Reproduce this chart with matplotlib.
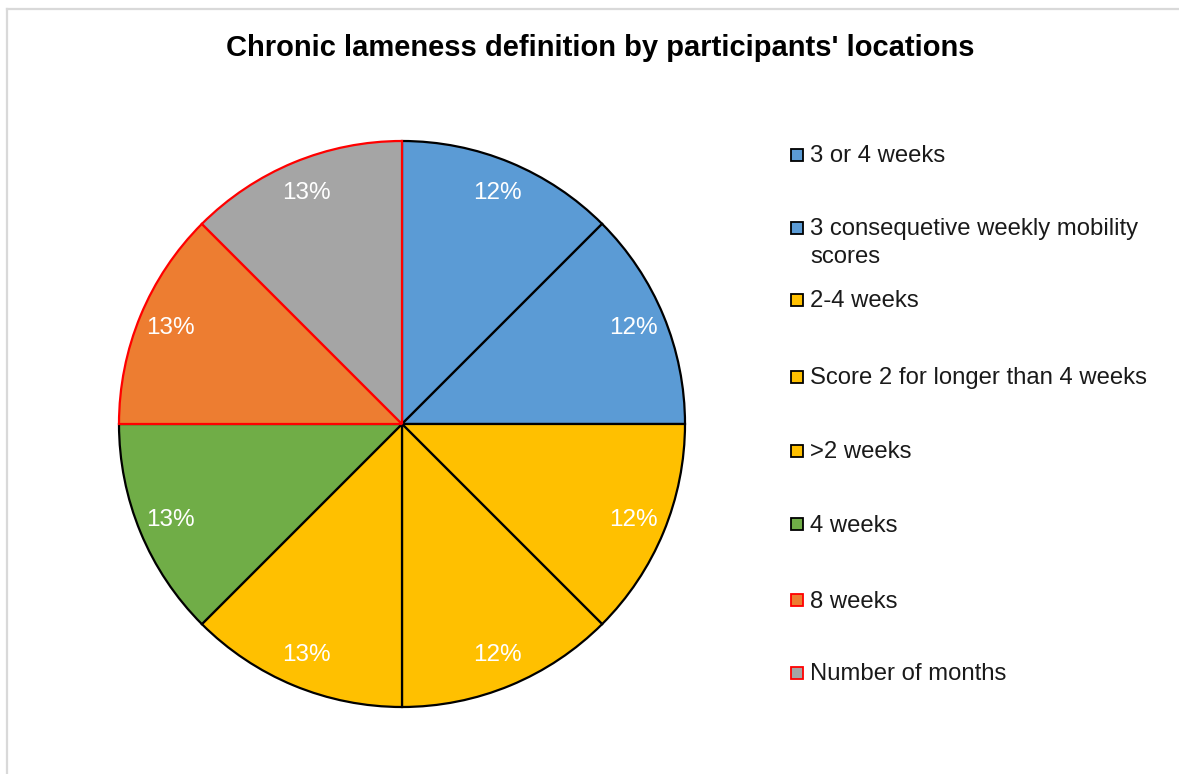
import matplotlib
matplotlib.use("Agg")
import matplotlib.pyplot as plt
from matplotlib.patches import Rectangle
from matplotlib.lines import Line2D

plt.rcParams['font.family'] = ['Liberation Sans', 'DejaVu Sans']

title = "Chronic lameness definition by participants' locations"
categories = ["3 or 4 weeks", "3 consequetive weekly mobility\nscores", "2-4 weeks",
              "Score 2 for longer than 4 weeks", ">2 weeks", "4 weeks", "8 weeks",
              "Number of months"]
values = [1, 1, 1, 1, 1, 1, 1, 1]
pct_labels = ["12%", "12%", "12%", "12%", "13%", "13%", "13%", "13%"]
colors = ["#5B9BD5", "#5B9BD5", "#FFC000", "#FFC000", "#FFC000", "#70AD47", "#ED7D31", "#A5A5A5"]
edges = ["black", "black", "black", "black", "black", "black", "red", "red"]

W, H = 1179, 774
fig = plt.figure(figsize=(W / 100, H / 100), dpi=100)

# outer chart frame
fig.add_artist(Line2D([7 / W, 7 / W], [0, 1 - 9 / H], color="#d9d9d9", lw=1.6, transform=fig.transFigure))
fig.add_artist(Line2D([7 / W, 1], [1 - 9 / H, 1 - 9 / H], color="#d9d9d9", lw=1.6, transform=fig.transFigure))

# pie axes: center (402,424), radius 283
cx, cy, r = 402, 424, 283
ax = fig.add_axes([(cx - r) / W, 1 - (cy + r) / H, 2 * r / W, 2 * r / H])
wedges, texts = ax.pie(values, colors=colors, startangle=90, counterclock=False,
                       labels=pct_labels, labeldistance=0.885,
                       wedgeprops=dict(linewidth=1.6),
                       textprops=dict(color="white", fontsize=17.5, ha="center", va="center"))
for w, ec in zip(wedges, edges):
    w.set_edgecolor(ec)
ax.set_xlim(-1, 1)
ax.set_ylim(-1, 1)
ax.set_aspect("equal")
ax.axis("off")

fig.text(600 / W, 1 - 48 / H, title, ha="center", va="center", fontsize=21, fontweight="bold")

# legend
leg_y = [155, 228, 300, 377, 451, 524, 600, 673]
for lab, c, ec, y in zip(categories, colors, edges, leg_y):
    fig.add_artist(Rectangle((791 / W, 1 - (y + 6) / H), 12 / W, 12 / H, facecolor=c,
                             edgecolor=ec if ec == "red" else "black", lw=1.3,
                             transform=fig.transFigure))
    fig.text(810 / W, 1 - (y - 9.5) / H, lab, ha="left", va="top", fontsize=17.2,
             color="#1a1a1a", linespacing=1.3)

fig.savefig("out.png", dpi=100)
